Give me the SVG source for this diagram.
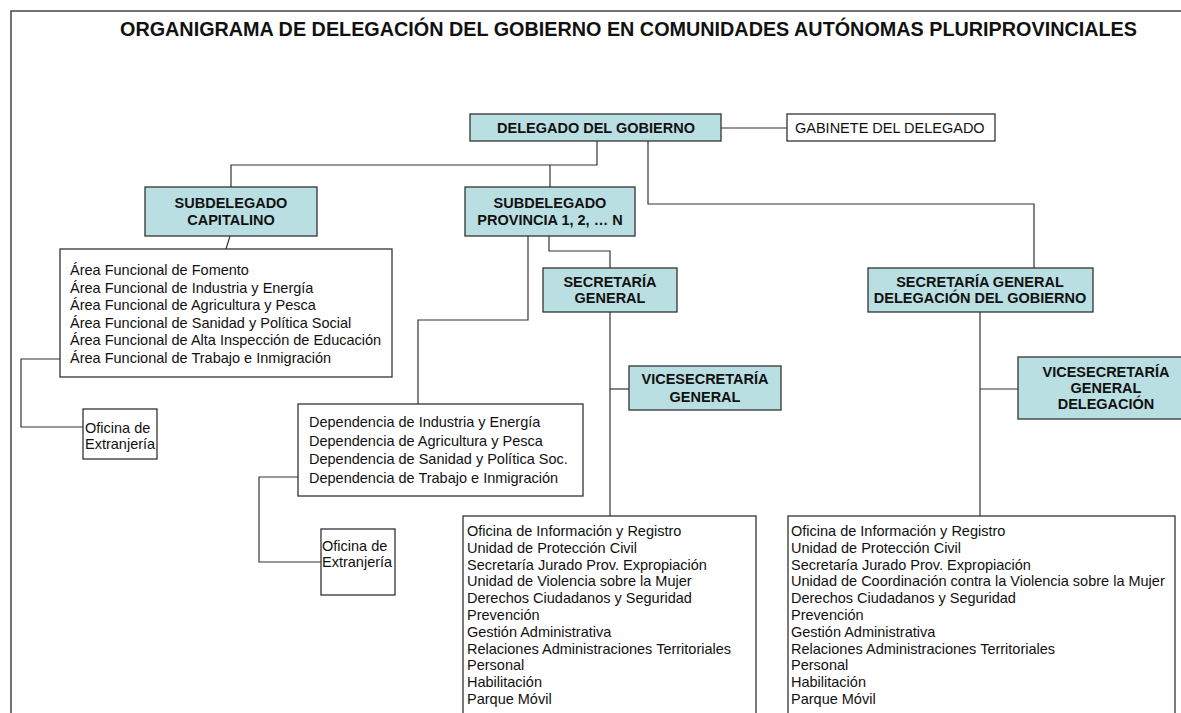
<svg xmlns="http://www.w3.org/2000/svg" width="1181" height="713" viewBox="0 0 1181 713">
<style>
text{font-family:"Liberation Sans",Arial,sans-serif;fill:#111}
.t{font-size:19.8px;font-weight:bold;text-anchor:middle}
.b{font-size:14.5px;font-weight:bold;text-anchor:middle}
.r{font-size:14.5px}
.hb{fill:#badfe2;stroke:#333;stroke-width:1.3}
.wb{fill:#fff;stroke:#333;stroke-width:1.3}
.c{fill:none;stroke:#333;stroke-width:1.2}
</style>
<rect width="1181" height="713" fill="#fff"/>
<g id="frame"><path d="M11,713 V11 H1181" fill="none" stroke="#444" stroke-width="1.5"/></g>
<text class="t" x="628.5" y="36">ORGANIGRAMA DE DELEGACIÓN DEL GOBIERNO EN COMUNIDADES AUTÓNOMAS PLURIPROVINCIALES</text>
<g id="connectors">
<path class="c" d="M721,128 H787"/>
<path class="c" d="M597,141 V165 H231 V187"/>
<path class="c" d="M550,165 V187"/>
<path class="c" d="M648,141 V204 H1034 V268"/>
<path class="c" d="M230,236 L226,249"/>
<path class="c" d="M68,359 H21 V427 H83"/>
<path class="c" d="M528,236 V320 H418 V404"/>
<path class="c" d="M302,477 H259 V562 H321"/>
<path class="c" d="M549,236 V251 H610 V268"/>
<path class="c" d="M610,312 V516"/>
<path class="c" d="M610,389 H629"/>
<path class="c" d="M980,312 V516"/>
<path class="c" d="M980,389 H1018"/>
</g>
<g id="delegado"><rect class="hb" x="470" y="114" width="251" height="27"/><text class="b" x="596" y="133">DELEGADO DEL GOBIERNO</text></g>
<g id="gabinete"><rect class="wb" x="787" y="114" width="208" height="27"/><text class="r" x="795" y="133">GABINETE DEL DELEGADO</text></g>
<g id="sub-capitalino"><rect class="hb" x="145" y="187" width="172" height="49"/><text class="b" x="231" y="207.5">SUBDELEGADO</text><text class="b" x="231" y="224.5">CAPITALINO</text></g>
<g id="sub-provincia"><rect class="hb" x="465" y="187" width="170" height="49"/><text class="b" x="550" y="207.5">SUBDELEGADO</text><text class="b" x="550" y="224.5">PROVINCIA 1, 2, … N</text></g>
<g id="secretaria"><rect class="hb" x="543" y="268" width="134" height="44"/><text class="b" x="610" y="287">SECRETARÍA</text><text class="b" x="610" y="303">GENERAL</text></g>
<g id="secretaria-delegacion"><rect class="hb" x="868" y="268" width="225" height="44"/><text class="b" x="980" y="287">SECRETARÍA GENERAL</text><text class="b" x="980" y="303">DELEGACIÓN DEL GOBIERNO</text></g>
<g id="vicesecretaria"><rect class="hb" x="629" y="366" width="152" height="44"/><text class="b" x="705" y="384">VICESECRETARÍA</text><text class="b" x="705" y="402">GENERAL</text></g>
<g id="vicesecretaria-delegacion"><rect class="hb" x="1018" y="357" width="176" height="62"/><text class="b" x="1106" y="377">VICESECRETARÍA</text><text class="b" x="1106" y="393">GENERAL</text><text class="b" x="1106" y="409">DELEGACIÓN</text></g>
<g id="areas"><rect class="wb" x="60" y="249" width="332" height="128"/>
<text class="r" x="70" y="275">Área Funcional de Fomento</text>
<text class="r" x="70" y="292.6">Área Funcional de Industria y Energía</text>
<text class="r" x="70" y="310.2">Área Funcional de Agricultura y Pesca</text>
<text class="r" x="70" y="327.8">Área Funcional de Sanidad y Política Social</text>
<text class="r" x="70" y="345.4">Área Funcional de Alta Inspección de Educación</text>
<text class="r" x="70" y="363">Área Funcional de Trabajo e Inmigración</text></g>
<g id="oficina-1"><rect class="wb" x="83" y="409" width="74" height="50"/><text class="r" x="85" y="433">Oficina de</text><text class="r" x="85" y="449">Extranjería</text></g>
<g id="dependencias"><rect class="wb" x="298" y="404" width="285" height="92"/>
<text class="r" x="309" y="427">Dependencia de Industria y Energía</text>
<text class="r" x="309" y="445.7">Dependencia de Agricultura y Pesca</text>
<text class="r" x="309" y="464.3">Dependencia de Sanidad y Política Soc.</text>
<text class="r" x="309" y="483">Dependencia de Trabajo e Inmigración</text></g>
<g id="oficina-2"><rect class="wb" x="321" y="529" width="74" height="66"/><text class="r" x="322" y="551">Oficina de</text><text class="r" x="322" y="567">Extranjería</text></g>
<g id="lista-secretaria"><rect class="wb" x="463" y="516" width="293" height="210"/>
<text class="r" x="467" y="536">Oficina de Información y Registro</text>
<text class="r" x="467" y="552.8">Unidad de Protección Civil</text>
<text class="r" x="467" y="569.6">Secretaría Jurado Prov. Expropiación</text>
<text class="r" x="467" y="586.4">Unidad de Violencia sobre la Mujer</text>
<text class="r" x="467" y="603.2">Derechos Ciudadanos y Seguridad</text>
<text class="r" x="467" y="620">Prevención</text>
<text class="r" x="467" y="636.8">Gestión Administrativa</text>
<text class="r" x="467" y="653.6">Relaciones Administraciones Territoriales</text>
<text class="r" x="467" y="670.4">Personal</text>
<text class="r" x="467" y="687.2">Habilitación</text>
<text class="r" x="467" y="704">Parque Móvil</text></g>
<g id="lista-delegacion"><rect class="wb" x="788" y="516" width="387" height="210"/>
<text class="r" x="791" y="536">Oficina de Información y Registro</text>
<text class="r" x="791" y="552.8">Unidad de Protección Civil</text>
<text class="r" x="791" y="569.6">Secretaría Jurado Prov. Expropiación</text>
<text class="r" x="791" y="586.4">Unidad de Coordinación contra la Violencia sobre la Mujer</text>
<text class="r" x="791" y="603.2">Derechos Ciudadanos y Seguridad</text>
<text class="r" x="791" y="620">Prevención</text>
<text class="r" x="791" y="636.8">Gestión Administrativa</text>
<text class="r" x="791" y="653.6">Relaciones Administraciones Territoriales</text>
<text class="r" x="791" y="670.4">Personal</text>
<text class="r" x="791" y="687.2">Habilitación</text>
<text class="r" x="791" y="704">Parque Móvil</text></g>
</svg>
